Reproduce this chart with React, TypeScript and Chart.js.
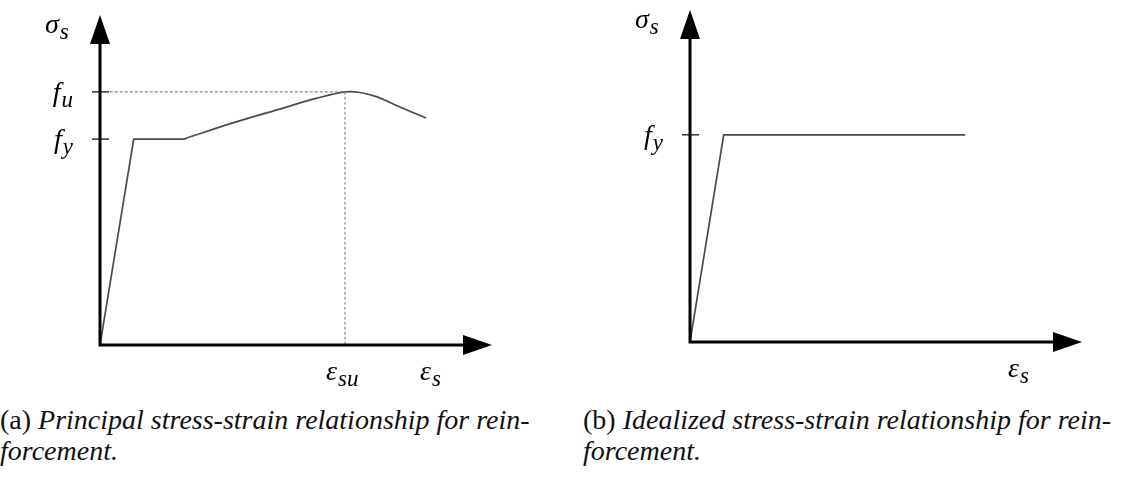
import React, { useEffect, useRef } from "react";
import { Chart, registerables } from "chart.js";

Chart.register(...registerables);

// Strain and stress in normalised units: each axis runs from 0 to 100.
const axisMax = 100;

const yieldStrain = 8.6;
const ultimateStrain = 62.5;
const yieldStress = 62.4;
const ultimateStress = 76.7;

// (a) principal curve: linear elastic branch and yield plateau
const principalStrain = [0, yieldStrain, 21.4];
const principalStress = [0, yieldStress, yieldStress];

// (a) strain hardening up to the ultimate point, then necking
const hardeningStrain = [21.4, 33.9, 46.7, 55.4, 62.5, 66.0, 70.7, 76.5, 83.2];
const hardeningStress = [62.4, 67.3, 71.8, 74.8, 76.7, 76.6, 75.2, 72.1, 68.8];

// (b) idealised bilinear curve
const idealStrain = [0, yieldStrain, 70.2];
const idealStress = [0, yieldStress, yieldStress];

type MathText = { main: string; sub: string };
type YMark = MathText & { value: number };
type XMark = MathText & { value: number; dx: number };

const MATH_FONT = '"Liberation Serif", "Times New Roman", serif';
const MAIN_SIZE = 28;
const SUB_SIZE = 23;

function pts(xs: number[], ys: number[]) {
  return xs.map((x, i) => ({ x, y: ys[i] }));
}

function drawMath(
  ctx: CanvasRenderingContext2D,
  t: MathText,
  x: number,
  baseline: number,
  align: "left" | "right"
) {
  ctx.save();
  ctx.fillStyle = "#000";
  ctx.textBaseline = "alphabetic";
  ctx.textAlign = "left";
  ctx.font = `italic ${MAIN_SIZE}px ${MATH_FONT}`;
  const wm = ctx.measureText(t.main).width;
  ctx.font = `italic ${SUB_SIZE}px ${MATH_FONT}`;
  const ws = ctx.measureText(t.sub).width;
  const left = align === "left" ? x : x - wm - ws - 1;
  ctx.font = `italic ${MAIN_SIZE}px ${MATH_FONT}`;
  ctx.fillText(t.main, left, baseline);
  ctx.font = `italic ${SUB_SIZE}px ${MATH_FONT}`;
  ctx.fillText(t.sub, left + wm + 1, baseline + 6);
  ctx.restore();
}

function makeAxesPlugin(yMarks: YMark[], xMarks: XMark[], yTitle: MathText) {
  return {
    id: "arrowAxes",
    afterDraw(chart: any) {
      const ctx: CanvasRenderingContext2D = chart.ctx;
      const xs = chart.scales.x;
      const ys = chart.scales.y;
      const x0 = xs.getPixelForValue(0);
      const xEnd = xs.getPixelForValue(axisMax);
      const y0 = ys.getPixelForValue(0);
      const yEnd = ys.getPixelForValue(axisMax);
      const head = 29;
      const half = 10;

      ctx.save();
      ctx.strokeStyle = "#000";
      ctx.fillStyle = "#000";
      ctx.lineWidth = 3;
      ctx.lineCap = "butt";
      ctx.beginPath();
      ctx.moveTo(x0, y0 + 1.5);
      ctx.lineTo(x0, yEnd + head - 1);
      ctx.moveTo(x0 - 1.5, y0);
      ctx.lineTo(xEnd - head + 1, y0);
      ctx.stroke();

      ctx.beginPath();
      ctx.moveTo(x0, yEnd);
      ctx.lineTo(x0 - half, yEnd + head);
      ctx.lineTo(x0 + half, yEnd + head);
      ctx.closePath();
      ctx.fill();

      ctx.beginPath();
      ctx.moveTo(xEnd, y0);
      ctx.lineTo(xEnd - head, y0 - half);
      ctx.lineTo(xEnd - head, y0 + half);
      ctx.closePath();
      ctx.fill();

      // tick marks on the stress axis
      ctx.lineWidth = 1.3;
      ctx.strokeStyle = "#111";
      yMarks.forEach((m) => {
        const py = ys.getPixelForValue(m.value);
        ctx.beginPath();
        ctx.moveTo(x0 - 8, py);
        ctx.lineTo(x0 + 9, py);
        ctx.stroke();
      });
      ctx.restore();

      yMarks.forEach((m) => {
        const py = ys.getPixelForValue(m.value);
        drawMath(ctx, m, x0 - 27, py + 9, "right");
      });
      xMarks.forEach((m) => {
        drawMath(ctx, m, xs.getPixelForValue(m.value) + m.dx, y0 + 35, "left");
      });
      drawMath(ctx, yTitle, x0 - 55, yEnd + 18, "left");
    },
  };
}

function baseOptions(padding: { left: number; right: number; top: number; bottom: number }) {
  return {
    responsive: false,
    animation: false as const,
    devicePixelRatio: 1,
    layout: { padding },
    plugins: { legend: { display: false }, tooltip: { enabled: false } },
    events: [],
    elements: { point: { radius: 0 } },
    scales: {
      x: { type: "linear" as const, min: 0, max: axisMax, display: false },
      y: { type: "linear" as const, min: 0, max: axisMax, display: false },
    },
  };
}

const sigma: MathText = { main: "σ", sub: "s" };

function PrincipalChart() {
  const ref = useRef<HTMLCanvasElement | null>(null);
  useEffect(() => {
    if (!ref.current) return;
    const chart = new Chart(ref.current, {
      type: "scatter",
      data: {
        datasets: [
          {
            data: [
              { x: 2.5, y: ultimateStress },
              { x: ultimateStrain, y: ultimateStress },
              { x: ultimateStrain, y: 0 },
            ],
            showLine: true,
            borderColor: "#858585",
            borderWidth: 1.1,
            borderDash: [3, 2],
            tension: 0,
          },
          {
            data: pts(principalStrain, principalStress),
            showLine: true,
            borderColor: "#4a4a4a",
            borderWidth: 1.7,
            tension: 0,
          },
          {
            data: pts(hardeningStrain, hardeningStress),
            showLine: true,
            borderColor: "#4a4a4a",
            borderWidth: 1.7,
            tension: 0.4,
          },
        ],
      },
      options: baseOptions({ left: 100, right: 68, top: 15, bottom: 55 }) as any,
      plugins: [
        makeAxesPlugin(
          [
            { value: ultimateStress, main: "f", sub: "u" },
            { value: yieldStress, main: "f", sub: "y" },
          ],
          [
            { value: ultimateStrain, main: "ε", sub: "su", dx: -19 },
            { value: axisMax, main: "ε", sub: "s", dx: -72 },
          ],
          sigma
        ),
      ],
    });
    return () => chart.destroy();
  }, []);
  return <canvas ref={ref} width={560} height={400} style={{ position: "absolute", left: 0, top: 0 }} />;
}

function IdealChart() {
  const ref = useRef<HTMLCanvasElement | null>(null);
  useEffect(() => {
    if (!ref.current) return;
    const chart = new Chart(ref.current, {
      type: "scatter",
      data: {
        datasets: [
          {
            data: pts(idealStrain, idealStress),
            showLine: true,
            borderColor: "#4a4a4a",
            borderWidth: 1.7,
            tension: 0,
          },
        ],
      },
      options: baseOptions({ left: 130, right: 39, top: 10, bottom: 58 }) as any,
      plugins: [
        makeAxesPlugin(
          [{ value: yieldStress, main: "f", sub: "y" }],
          [{ value: axisMax, main: "ε", sub: "s", dx: -74 }],
          sigma
        ),
      ],
    });
    return () => chart.destroy();
  }, []);
  return <canvas ref={ref} width={561} height={400} style={{ position: "absolute", left: 560, top: 0 }} />;
}

const captionStyle: React.CSSProperties = {
  position: "absolute",
  top: 404,
  width: 560,
  whiteSpace: "nowrap",
  fontFamily: '"Liberation Serif", "Times New Roman", serif',
  fontSize: 28,
  lineHeight: "31px",
  color: "#111",
};

export default function App() {
  return (
    <div
      style={{
        position: "absolute",
        left: 0,
        top: 0,
        width: 1121,
        height: 480,
        background: "#fff",
        overflow: "hidden",
      }}
    >
      <PrincipalChart />
      <IdealChart />
      <div style={{ ...captionStyle, left: 0 }}>
        (a) <i>Principal stress-strain relationship for rein-</i>
        <br />
        <i>forcement.</i>
      </div>
      <div style={{ ...captionStyle, left: 583, width: 538 }}>
        (b) <i>Idealized stress-strain relationship for rein-</i>
        <br />
        <i>forcement.</i>
      </div>
    </div>
  );
}
